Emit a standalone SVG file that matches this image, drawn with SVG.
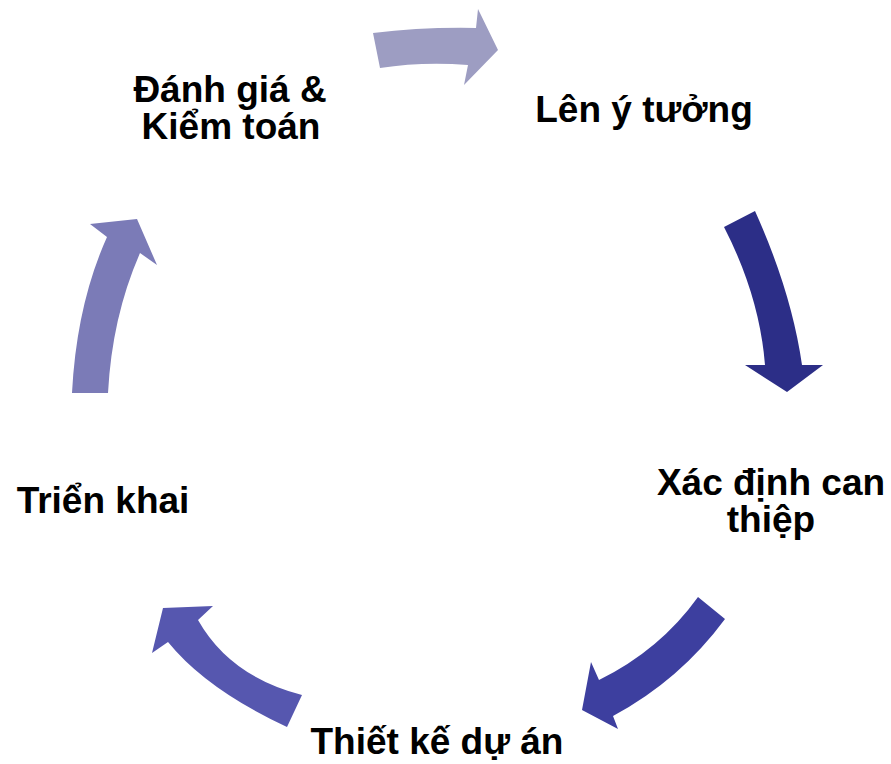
<svg xmlns="http://www.w3.org/2000/svg" width="891" height="764" viewBox="0 0 891 764">
<style>
.lbl{font-family:"Liberation Sans",Arial,sans-serif;font-weight:bold;font-size:37px;fill:#000;text-anchor:middle}
</style>
<rect width="891" height="764" fill="#fff"/>
<g id="connectors">
<path id="a1" fill="#9d9dc2" d="M373,33 Q422,27 476,28 L478,9 L498,50 L464,85 L468,65 Q422,61.5 380,68 Z"/>
<path id="a2" fill="#2c2e87" d="M755,211 Q791.5,292 802,365 L823,365 L787,392 L745,365 L765,365 Q759.5,296 724,227 Z"/>
<path id="a3" fill="#3d3f9f" d="M698,597 Q660,650 599,680 L591,662 L582,710 L618,729 L613,716 Q680,680 725,619 Z"/>
<path id="a4" fill="#5657af" d="M302,695 Q230,676.5 198,620 L213,606 L163,608 L152,653 L168,642 Q206.5,689.5 287,727 Z"/>
<path id="a5" fill="#7b7bb7" d="M72,393 Q76.5,305 107,237 L90,224 L137,219 L157,265 L140,253 Q112,317 108,393 Z"/>
</g>
<g id="n1"><text class="lbl" x="644" y="122">Lên ý tưởng</text></g>
<g id="n2"><text class="lbl" x="771" y="495">Xác định can</text><text class="lbl" x="771" y="532">thiệp</text></g>
<g id="n3"><text class="lbl" x="437" y="754">Thiết kế dự án</text></g>
<g id="n4"><text class="lbl" x="103" y="513">Triển khai</text></g>
<g id="n5"><text class="lbl" x="230" y="102">Đánh giá &amp;</text><text class="lbl" x="231" y="139">Kiểm toán</text></g>
</svg>
